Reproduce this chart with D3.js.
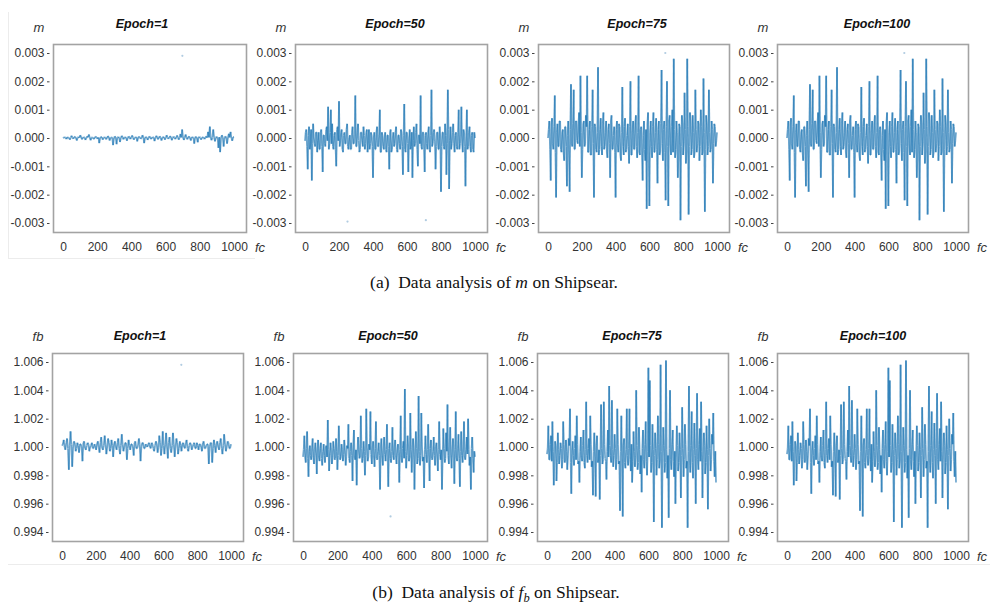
<!DOCTYPE html>
<html><head><meta charset="utf-8">
<script src="https://cdn.jsdelivr.net/npm/d3@7"></script>
<style>body{margin:0;background:#fff}</style></head>
<body>
<svg id="c" width="992" height="609"></svg>
<script>
// ---------------- data ----------------
const fcTicks = [0, 200, 400, 600, 800, 1000];
const mTicks = [-0.003, -0.002, -0.001, 0, 0.001, 0.002, 0.003];
const fbTicks = [0.994, 0.996, 0.998, 1.000, 1.002, 1.004, 1.006];
const epochTitles = ["Epoch=1", "Epoch=50", "Epoch=75", "Epoch=100"];

// m values, written in units of 1e-5 (epoch 1) and 1e-4 (others),
// evenly spaced along fc 0..1000
const m_e1_1e5 = [0,2, 3,1, -4,3, 2,0, -6,2, 8,1, -3,3, 5,0, -9,2, 4,1,
 10,3, -5,1, 3,2, -7,0, 6,3, 12,1, -8,2, 2,0, -4,3, 5,1,
 -3,2, -18,0, 4,3, -6,1, 3,2, -5,0, 7,3, -9,1, 2,2, -25,0,
 6,3, -22,1, 4,2, -14,0, 8,3, -5,1, 3,2, -10,0, 6,3, -4,1,
 9,2, -6,0, 3,3, -12,1, 5,2, -3,0, 10,3, -18,1, 4,2, -7,0,
 6,3, -4,1, 3,2, -11,0, 8,3, -5,1, 6,2, -9,0, 4,3, -6,1,
 10,2, -3,0, 7,3, -8,1, 5,2, -4,0, 9,3, -6,1, 14,2, 30,0,
 -7,3, 12,1, -5,2, 6,0, -9,3, 3,1, -20,2, 5,0, -15,3, 4,1,
 -6,2, 3,0, -4,3, 6,1, 22,2, 40,0, -8,3, 30,1, -12,2, 5,0,
 -35,3, -50,1, 10,2, -30,0, 6,3, -20,1, 15,2, 22,0, -10,3, 4];
const m_e50_1e4 = [-1,2, 3,-3, -11,1, 4,-4, -2,3, -15,-2, 5,0, -2,-3, 2,2, -5,-1,
 2,-4, -4,2, 3,-3, -12,1, 1,-2, -3,3, 4,-1, 11,-4, -2,2, 10,-2,
 5,-3, -4,1, 2,-4, -10,3, 4,-1, 13,-3, -1,2, 3,-4, -5,1, 2,-2,
 -2,3, 5,-3, -4,0, 1,-4, -4,2, 4,-2, -2,1, 15,-3, -3,2, 5,-1,
 -5,-4, 2,2, -1,-3, 4,1, -4,-2, 2,3, -5,-1, 3,-4, -2,2, 1,-3,
 -14,0, 2,-4, -4,2, 4,-3, -3,1, 10,-5, -5,2, 1,-3, -4,0, 2,-4,
 -5,1, 1,-3, -11,2, 3,-5, -4,0, 2,-3, -2,2, 4,-4, -5,1, 1,-2,
 -4,3, 2,-3, -13,1, 12,-4, -5,2, 2,-2, -12,0, 3,-4, -3,2, -14,-1,
 4,-3, -2,2, 5,-4, -10,1, 1,-2, 15,-3, -4,2, 2,-4, -12,1, 2,-2,
 -4,2, 4,-4, -5,1, 17,-3, -2,2, 3,-1, -11,-3, 2,2, -4,-4, 4,0,
 -19,-3, 2,2, -3,-4, 5,1, -13,-2, 17,3, -18,-1, 4,-4, -2,2, 5,-2,
 -5,1, 2,-3, -4,2, 10,-4, -2,1, 11,-2, -5,3, 2,-3, -17,0, 10,-4,
 -3,2, 4,-3, -5,1, 2,-4, -5,2, 0];
const m_e75_1e4 = [0,3, 6,-4, -15,5, 7,-2, -4,4, 15,-5, -21,2, 5,-3, -3,6, 6,-4,
 -5,2, 3,-5, -8,4, 4,-3, -17,1, 6,-6, -19,3, 19,-2, -3,5, 17,-4,
 -4,6, 6,-1, -2,5, 9,-3, 22,2, -14,-4, 5,6, -3,-2, 8,4, 22,-5,
 -5,3, 6,-6, -6,4, 17,-2, -21,5, 4,-4, -5,2, 25,-6, -4,3, 7,-3,
 -6,5, 9,-4, -3,2, 6,-5, -7,3, 5,-2, -14,6, 8,-4, -4,1, 4,-5,
 -21,3, 6,-2, -5,5, 4,-6, -8,2, 18,-3, -6,4, 7,-5, -4,1, 5,-3,
 -9,4, 20,-6, -6,2, 6,-4, -4,5, 8,-3, -7,2, 22,-5, -6,3, 4,-6,
 -15,1, 6,-4, -8,3, -25,5, 9,-6, -24,2, 6,-3, -7,4, 9,-5, -5,2,
 7,-4, -16,3, 6,-6, -5,5, 24,-2, -8,3, 6,-5, -22,4, 20,-3, -24,6,
 8,-2, -6,4, 10,-5, 28,3, -7,-4, 6,2, -14,-6, 5,4, -29,-3, 8,5,
 -6,-2, 16,3, -9,-5, 28,4, -27,-3, 9,6, -6,-4, 8,2, -7,-5, 17,3,
 -5,-2, 6,5, -8,-3, 10,4, -6,-5, 21,2, -26,-4, 8,5, -6,-3, 17,2,
 -5,-4, 6,3, -16,-2, 5,4, -3,-1, 2];
const m_e1 = m_e1_1e5.map(v => v * 1e-5);
const m_e50 = m_e50_1e4.map(v => v * 1e-4);
const m_e75 = m_e75_1e4.map(v => v * 1e-4);
const m_e100 = m_e75.slice(); // identical to epoch 75 in the reference

// fb values
const fb_e1 = [1.0001,1.0002, 1.0005,1.0000, 0.9998,1.0003, 1.0006,0.9999, 0.9984,1.0001, 1.0011,1.0002, 0.9986,1.0000, 1.0004,1.0003, 0.9997,0.9999, 1.0003,1.0001,
 0.9996,1.0002, 1.0002,1.0000, 0.9990,1.0003, 1.0004,0.9999, 0.9998,1.0001, 1.0003,1.0002, 0.9997,1.0000, 1.0001,1.0003, 0.9999,0.9999, 1.0002,1.0001,
 0.9998,1.0002, 1.0004,1.0000, 0.9996,1.0003, 1.0007,0.9999, 0.9998,1.0001, 1.0008,1.0002, 0.9995,1.0000, 1.0006,1.0003, 0.9997,0.9999, 1.0005,1.0001,
 0.9993,1.0002, 1.0004,1.0000, 0.9998,1.0003, 1.0006,0.9999, 0.9995,1.0001, 1.0009,1.0002, 0.9997,1.0000, 1.0003,1.0003, 0.9991,0.9999, 1.0005,1.0001,
 0.9998,1.0002, 1.0002,1.0000, 0.9994,1.0003, 1.0004,0.9999, 0.9999,1.0001, 1.0006,1.0002, 0.9990,1.0000, 1.0003,1.0003, 0.9999,0.9999, 1.0002,1.0001,
 1.0000,1.0002, 1.0003,1.0000, 0.9999,1.0003, 1.0002,0.9999, 0.9997,1.0001, 1.0004,1.0002, 0.9996,1.0000, 1.0008,1.0003, 0.9994,0.9999, 1.0011,1.0001,
 0.9995,1.0002, 1.0010,1.0000, 0.9992,1.0003, 1.0007,0.9999, 0.9996,1.0001, 1.0010,1.0002, 0.9993,1.0000, 1.0006,1.0003, 0.9995,0.9999, 1.0004,1.0001,
 0.9997,1.0002, 1.0003,1.0000, 0.9999,1.0003, 1.0005,0.9999, 0.9997,1.0001, 1.0003,1.0002, 0.9998,1.0000, 1.0002,1.0003, 0.9999,0.9999, 1.0003,1.0001,
 0.9998,1.0002, 1.0002,1.0000, 0.9997,1.0003, 1.0004,0.9999, 0.9999,1.0001, 1.0002,1.0002, 0.9988,1.0000, 1.0003,1.0003, 0.9989,0.9999, 1.0005,1.0001,
 0.9996,1.0002, 1.0004,1.0000, 0.9998,1.0003, 1.0006,0.9999, 0.9995,1.0001, 1.0009,1.0002, 0.9997,1.0000, 1.0004,1.0003, 0.9999,0.9999, 1.0002];
const fb_e50 = [0.9993,0.9998, 1.0008,0.9993, 0.9989,0.9999, 1.0011,0.9992, 0.9979,0.9997, 1.0001,0.9994, 0.9991,1.0000, 1.0006,0.9993, 0.9988,0.9998, 1.0003,0.9995,
 0.9981,0.9998, 1.0005,0.9993, 0.9990,0.9999, 1.0003,0.9992, 0.9987,0.9997, 1.0002,0.9994, 0.9989,1.0000, 1.0001,0.9993, 1.0019,0.9998, 0.9983,0.9995,
 1.0003,0.9998, 0.9988,0.9993, 1.0004,0.9999, 0.9991,0.9992, 1.0006,0.9997, 0.9984,0.9994, 1.0015,1.0000, 0.9991,0.9993, 1.0002,0.9998, 0.9990,0.9995,
 1.0005,0.9998, 0.9987,0.9993, 1.0001,0.9999, 1.0016,0.9992, 0.9989,0.9997, 1.0003,0.9994, 0.9976,1.0000, 1.0012,0.9993, 0.9991,0.9998, 0.9973,0.9995,
 1.0007,0.9998, 0.9992,0.9993, 1.0022,0.9999, 0.9989,0.9992, 1.0004,0.9997, 0.9980,0.9994, 1.0027,1.0000, 0.9990,0.9993, 1.0002,0.9998, 1.0025,0.9995,
 0.9988,0.9998, 1.0004,0.9993, 0.9986,0.9999, 1.0018,0.9992, 0.9991,0.9997, 1.0003,0.9994, 0.9970,1.0000, 1.0006,0.9993, 0.9987,0.9998, 1.0007,0.9995,
 0.9990,0.9998, 1.0016,0.9993, 0.9972,0.9999, 1.0003,0.9992, 0.9989,0.9997, 1.0014,0.9994, 0.9991,1.0000, 1.0005,0.9993, 0.9988,0.9998, 1.0002,0.9995,
 0.9975,0.9998, 1.0022,0.9993, 0.9989,0.9999, 1.0004,0.9992, 1.0041,0.9997, 0.9985,0.9994, 1.0008,1.0000, 0.9990,0.9993, 1.0024,0.9998, 0.9982,0.9995,
 1.0006,0.9998, 0.9970,0.9993, 1.0011,0.9999, 0.9988,0.9992, 1.0036,0.9997, 0.9987,0.9994, 1.0024,1.0000, 0.9990,0.9993, 0.9971,0.9998, 1.0008,0.9995,
 0.9989,0.9998, 1.0016,0.9993, 0.9976,0.9999, 1.0005,0.9992, 0.9991,0.9997, 1.0007,0.9994, 0.9987,1.0000, 1.0003,0.9993, 0.9983,0.9998, 1.0018,0.9995,
 0.9991,0.9998, 0.9970,0.9993, 1.0013,0.9999, 0.9989,0.9992, 1.0010,0.9997, 1.0030,0.9994, 0.9988,1.0000, 1.0014,0.9993, 0.9985,0.9998, 1.0006,0.9995,
 0.9974,0.9998, 1.0025,0.9993, 0.9990,0.9999, 1.0009,0.9992, 0.9972,0.9997, 1.0011,0.9994, 0.9989,1.0000, 1.0018,0.9993, 0.9991,0.9998, 1.0007,0.9995,
 1.0020,0.9998, 0.9987,0.9993, 0.9970,0.9999, 1.0007,0.9992, 0.9982,0.9997, 0.9993];
const fb_e75 = [0.9995,0.9999, 1.0015,0.9991, 0.9991,1.0002, 1.0008,0.9990, 1.0018,0.9997, 0.9973,0.9993, 1.0004,1.0001, 0.9976,0.9989, 1.0010,0.9998, 0.9988,0.9994,
 1.0003,0.9999, 0.9985,0.9991, 1.0018,1.0002, 0.9989,0.9990, 1.0005,0.9997, 0.9984,0.9993, 1.0006,1.0001, 1.0027,0.9989, 0.9967,0.9998, 1.0004,0.9994,
 0.9987,0.9999, 1.0008,0.9991, 1.0022,1.0002, 0.9988,0.9990, 0.9975,0.9997, 1.0007,0.9993, 0.9990,1.0001, 1.0012,0.9989, 0.9985,0.9998, 1.0032,0.9994,
 0.9989,0.9999, 1.0006,0.9991, 1.0022,1.0002, 0.9986,0.9990, 0.9966,0.9997, 1.0010,0.9993, 0.9965,1.0001, 1.0008,0.9989, 0.9990,0.9998, 0.9963,0.9994,
 1.0030,0.9999, 0.9988,0.9991, 1.0032,1.0002, 0.9992,0.9990, 0.9977,0.9997, 1.0012,0.9993, 1.0043,1.0001, 0.9994,0.9989, 1.0033,0.9998, 0.9986,0.9994,
 1.0009,0.9999, 0.9984,0.9991, 1.0027,1.0002, 0.9988,0.9990, 0.9955,0.9997, 1.0022,0.9993, 0.9951,1.0001, 1.0006,0.9989, 0.9985,0.9998, 1.0027,0.9994,
 0.9987,0.9999, 1.0027,0.9991, 0.9983,1.0002, 0.9975,0.9990, 1.0011,0.9997, 0.9986,0.9993, 1.0040,1.0001, 0.9984,0.9989, 1.0014,0.9998, 0.9981,0.9994,
 0.9968,0.9999, 1.0012,0.9991, 0.9985,1.0002, 1.0018,0.9990, 0.9980,0.9997, 1.0056,0.9993, 1.0047,1.0001, 0.9982,0.9989, 1.0016,0.9998, 0.9947,0.9994,
 1.0010,0.9999, 0.9980,0.9991, 1.0022,1.0002, 0.9985,0.9990, 1.0058,0.9997, 0.9943,0.9993, 1.0014,1.0001, 0.9982,0.9989, 1.0061,0.9998, 0.9978,0.9994,
 0.9950,0.9999, 1.0040,0.9991, 0.9984,1.0002, 1.0012,0.9990, 0.9979,0.9997, 0.9960,0.9993, 1.0015,1.0001, 0.9983,0.9989, 1.0010,0.9998, 0.9964,0.9994,
 1.0028,0.9999, 0.9979,0.9991, 1.0016,1.0002, 0.9985,0.9990, 0.9943,0.9997, 1.0043,0.9993, 0.9982,1.0001, 1.0025,0.9989, 0.9978,0.9998, 1.0017,0.9994,
 0.9960,0.9999, 1.0038,0.9991, 0.9984,1.0002, 1.0013,0.9990, 1.0032,0.9997, 0.9964,0.9993, 1.0010,1.0001, 0.9981,0.9989, 1.0015,0.9998, 0.9956,0.9994,
 1.0020,0.9999, 0.9983,0.9991, 1.0009,1.0002, 1.0024,0.9990, 0.9979,0.9997, 0.9975];
const fb_e100 = fb_e75.slice(); // identical to epoch 75 in the reference

// stray specks visible in the reference, [fc, value]
const m_specks = [[[698, 0.0029]], [[250, -0.00295], [711, -0.0029]], [[694, 0.003]], [[694, 0.003]]];
const fb_specks = [[[706, 1.0058]], [[509, 0.9951]], [], []];

// ---------------- layout ----------------
const rows = [
  { series: [m_e1, m_e50, m_e75, m_e100], ticks: mTicks, ylab: "m", specks: m_specks,
    frames: [[53,246],[295,487],[538,729],[777,968]], top: 44, bottom: 232,
    titleX: [142,395,637,877], titleY: 28 },
  { series: [fb_e1, fb_e50, fb_e75, fb_e100], ticks: fbTicks, ylab: "fb", specks: fb_specks,
    frames: [[52,243],[293,487],[537,728],[777,968]], top: 353, bottom: 541,
    titleX: [140,388,632,873], titleY: 340 }
];

const svg = d3.select("#c");
const loc = d3.formatLocale({decimal: ".", thousands: ",", grouping: [3], currency: ["", ""], minus: "-"});
const fmt = loc.format(".3f");
const blue = "#1f77b4";

// faint scan borders
const faint = svg.append("g").attr("stroke", "#ececec").attr("stroke-width", 1);
faint.append("line").attr("x1", 8.5).attr("x2", 8.5).attr("y1", 12).attr("y2", 258);
faint.append("line").attr("x1", 8).attr("x2", 255).attr("y1", 258.5).attr("y2", 258.5);
faint.append("line").attr("x1", 8).attr("x2", 990).attr("y1", 564.5).attr("y2", 564.5);

rows.forEach((row, ri) => {
  row.frames.forEach((fr, pi) => {
    const [L, R] = fr;
    const x = d3.scaleLinear().domain([0, 1000]).range([L + 10, R - 12]);
    const tmin = row.ticks[0], tmax = row.ticks[row.ticks.length - 1];
    const y = d3.scaleLinear().domain([tmin, tmax]).range([row.bottom - 9, row.top + 9]);
    const g = svg.append("g");
    const clipId = "clip" + ri + pi;
    g.append("clipPath").attr("id", clipId).append("rect")
      .attr("x", L).attr("y", row.top).attr("width", R - L).attr("height", row.bottom - row.top);

    const vals = row.series[pi];
    const n = vals.length;
    const pts = vals.map((v, i) => [i * 1000 / (n - 1), v]);
    const segs = d3.pairs(pts);
    const pg = g.append("g").attr("clip-path", `url(#${clipId})`);
    pg.selectAll("line").data(segs).join("line")
      .attr("x1", d => x(d[0][0])).attr("y1", d => y(d[0][1]))
      .attr("x2", d => x(d[1][0])).attr("y2", d => y(d[1][1]))
      .attr("stroke", blue).attr("stroke-opacity", 0.65).attr("stroke-width", 1.7)
      .attr("stroke-linecap", "butt");
    pg.selectAll("circle").data(row.specks[pi]).join("circle")
      .attr("cx", d => x(d[0])).attr("cy", d => y(d[1])).attr("r", 1.1)
      .attr("fill", "#9dbfd9").attr("opacity", 0.8);

    // frame
    g.append("rect").attr("x", L + 0.5).attr("y", row.top + 0.5)
      .attr("width", R - L).attr("height", row.bottom - row.top)
      .attr("fill", "none").attr("stroke", "#a3a3a3").attr("stroke-width", 1.6);

    // y axis
    const ya = g.append("g").attr("transform", `translate(${L - 3.5},0)`)
      .call(d3.axisLeft(y).tickValues(row.ticks).tickFormat(fmt).tickSize(2.5).tickPadding(2.5));
    ya.select(".domain").remove();
    ya.selectAll("line").attr("stroke", "#444");
    ya.selectAll("text").attr("font-family", "Liberation Sans, Arial, sans-serif")
      .attr("font-size", 12).attr("fill", "#333");

    // x axis
    const xa = g.append("g").attr("transform", `translate(0,${row.bottom})`)
      .call(d3.axisBottom(x).tickValues(fcTicks).tickFormat(d3.format("d")).tickSize(0).tickPadding(10.5));
    xa.select(".domain").remove();
    xa.selectAll("text").attr("font-family", "Liberation Sans, Arial, sans-serif")
      .attr("font-size", 12).attr("fill", "#333");

    // title
    g.append("text").attr("x", row.titleX[pi]).attr("y", row.titleY)
      .attr("text-anchor", "middle").attr("font-family", "Liberation Sans, Arial, sans-serif")
      .attr("font-size", 12.5).attr("font-weight", "bold").attr("font-style", "italic")
      .attr("fill", "#111").text(epochTitles[pi]);
    // axis names
    g.append("text").attr("x", L - 14).attr("y", row.top - 12)
      .attr("text-anchor", "middle").attr("font-family", "Liberation Sans, Arial, sans-serif")
      .attr("font-size", 13).attr("font-style", "italic").attr("fill", "#333").text(row.ylab);
    g.append("text").attr("x", R + 14).attr("y", row.bottom + 19.5)
      .attr("text-anchor", "middle").attr("font-family", "Liberation Sans, Arial, sans-serif")
      .attr("font-size", 13).attr("font-style", "italic").attr("fill", "#333").text("fc");
  });
});

// captions
const capFont = "Liberation Serif, Times New Roman, serif";
const capA = svg.append("text").attr("x", 494).attr("y", 288).attr("text-anchor", "middle")
  .attr("font-family", capFont).attr("font-size", 17.5).attr("fill", "#111");
capA.append("tspan").text("(a)\u2002Data analysis of ");
capA.append("tspan").attr("font-style", "italic").text("m");
capA.append("tspan").text(" on Shipsear.");

const capB = svg.append("text").attr("x", 496).attr("y", 598).attr("text-anchor", "middle")
  .attr("font-family", capFont).attr("font-size", 17.5).attr("fill", "#111");
capB.append("tspan").text("(b)\u2002Data analysis of ");
capB.append("tspan").attr("font-style", "italic").text("f");
capB.append("tspan").attr("font-style", "italic").attr("font-size", 12.5).attr("dy", 4).text("b");
capB.append("tspan").attr("dy", -4).text(" on Shipsear.");
</script>
</body></html>
